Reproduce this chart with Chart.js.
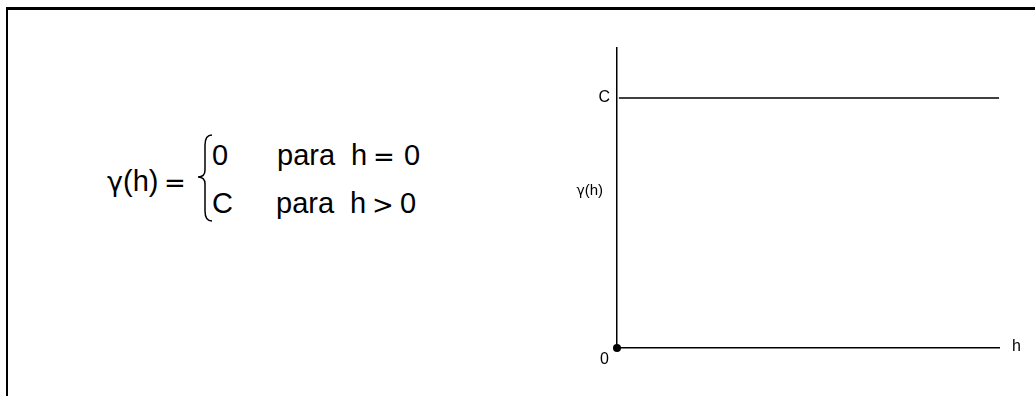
<!DOCTYPE html>
<html>
<head>
<meta charset="utf-8">
<script src="https://cdn.jsdelivr.net/npm/chart.js@4/dist/chart.umd.min.js"></script>
<style>
  html, body { margin: 0; padding: 0; background: #fff; }
  body { width: 1035px; height: 396px; position: relative; overflow: hidden;
         font-family: "Liberation Sans", Arial, sans-serif; color: #000; }
  #frame { position: absolute; left: 6px; top: 7px; width: 1200px; height: 500px;
           border-left: 2px solid #000; border-top: 3px solid #000; }
  .eq { position: absolute; font-size: 29px; line-height: 1; white-space: nowrap; }
  .sym { font-family: "DejaVu Sans", sans-serif; font-size: 26px; }
  .gr { font-family: "DejaVu Sans", sans-serif; font-size: 27px; }
  #brace { position: absolute; left: 196px; top: 133px; }
  #plot { position: absolute; left: 560px; top: 0; width: 475px; height: 396px; }
</style>
</head>
<body>
<div id="frame"></div>

<!-- nugget model definition -->
<div class="eq" style="left:107px; top:167px"><span class="gr">γ</span>(h)</div>
<div class="eq sym" style="left:164px; top:170px">=</div>
<svg id="brace" width="20" height="90" viewBox="0 0 20 90">
  <path d="M16,2 Q9,2 9,12 L9,37 Q9,44 2,44 Q9,44 9,51 L9,78 Q9,88 16,88"
        fill="none" stroke="#000" stroke-width="1.5"/>
</svg>
<div class="eq" style="left:212px; top:141px">0</div>
<div class="eq" style="left:277px; top:141px">para</div>
<div class="eq" style="left:351px; top:141px">h</div>
<div class="eq sym" style="left:373px; top:144px">=</div>
<div class="eq" style="left:404px; top:141px">0</div>
<div class="eq" style="left:212px; top:189px">C</div>
<div class="eq" style="left:276px; top:189px">para</div>
<div class="eq" style="left:350px; top:189px">h</div>
<div class="eq sym" style="left:372px; top:192px">&gt;</div>
<div class="eq" style="left:400px; top:189px">0</div>

<div id="plot"><canvas id="graph" width="475" height="396"></canvas></div>

<script>
// axis extents
const lagRange = [0, 10]
const gammaRange = [0, 1.2]
// sill C of the nugget effect, flat for every h > 0
const sill = 1
const plateauLag = [0.05, 10]
const plateauGamma = [sill, sill]
// gamma(0) = 0
const originPoint = [0, 0]
// labelled ticks
const xTickValues = [0]
const xTickLabels = ['0']
const yTickValues = [sill]
const yTickLabels = ['C']

const labelFont = {family: '"Liberation Sans", Arial, sans-serif', size: 16}

// horizontal axis names: gamma(h) beside the y axis, h after the x axis
const axisNames = {
    id: 'axisNames',
    afterDraw(chart) {
        const {ctx, chartArea: a} = chart
        const y = a.top + (a.bottom - a.top) * 0.475
        ctx.save()
        ctx.fillStyle = '#000'
        ctx.textBaseline = 'middle'
        ctx.textAlign = 'right'
        ctx.font = '15px "Liberation Sans", Arial, sans-serif'
        const rest = '(h)'
        const restW = ctx.measureText(rest).width
        ctx.fillText(rest, a.left - 14, y)
        ctx.font = '14px "DejaVu Sans", sans-serif'
        ctx.fillText('γ', a.left - 14 - restW, y + 1)
        ctx.textAlign = 'left'
        ctx.font = '16px "Liberation Sans", Arial, sans-serif'
        ctx.fillText('h', a.right + 13, a.bottom - 1)
        ctx.restore()
    }
}

new Chart('graph', {
    type: 'scatter',
    data: {
        datasets: [{
            data: plateauLag.map((x, i) => ({x: x, y: plateauGamma[i]})),
            showLine: true,
            borderColor: '#000',
            borderWidth: 1.5,
            pointRadius: 0,
            clip: false
        }, {
            data: [{x: originPoint[0], y: originPoint[1]}],
            pointRadius: 4,
            pointBackgroundColor: '#000',
            pointBorderWidth: 0,
            clip: false
        }]
    },
    options: {
        responsive: false,
        animation: false,
        devicePixelRatio: 1,
        layout: {padding: {left: 0, top: 48, right: 36, bottom: 28}},
        plugins: {
            legend: {display: false},
            tooltip: {enabled: false}
        },
        scales: {
            x: {
                type: 'linear',
                min: lagRange[0],
                max: lagRange[1],
                grid: {display: false, drawTicks: false},
                border: {display: true, color: '#000', width: 1.5},
                afterBuildTicks: s => { s.ticks = xTickValues.map(v => ({value: v})) },
                afterFit: s => { s.height = 20 },
                ticks: {
                    color: '#000',
                    font: labelFont,
                    align: 'end',
                    labelOffset: -8,
                    padding: 2,
                    maxRotation: 0,
                    autoSkip: false,
                    callback: (v, i) => xTickLabels[i]
                }
            },
            y: {
                type: 'linear',
                min: gammaRange[0],
                max: gammaRange[1],
                grid: {display: false, drawTicks: false},
                border: {display: true, color: '#000', width: 1.5},
                afterBuildTicks: s => { s.ticks = yTickValues.map(v => ({value: v})) },
                afterFit: s => { s.width = 57 },
                ticks: {
                    color: '#000',
                    font: labelFont,
                    padding: 7,
                    autoSkip: false,
                    callback: (v, i) => yTickLabels[i]
                }
            }
        }
    },
    plugins: [axisNames]
})
</script>
</body>
</html>
